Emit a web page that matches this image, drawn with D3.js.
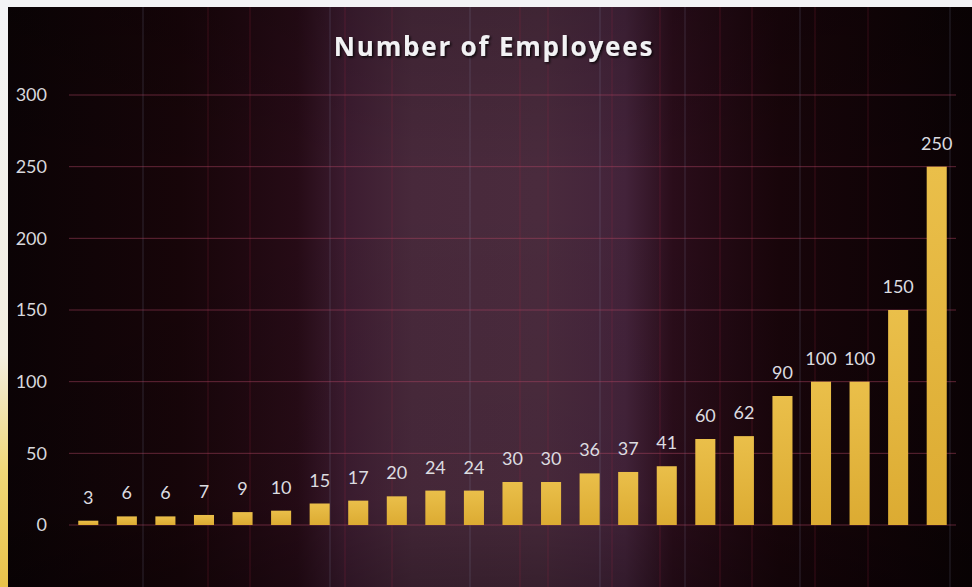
<!DOCTYPE html>
<html><head><meta charset="utf-8">
<script src="https://cdn.jsdelivr.net/npm/d3@7"></script>
<style>html,body{margin:0;padding:0;background:#f3f3f5;}svg{display:block;}</style>
</head><body>
<svg id="chart" width="972" height="587"></svg>
<script>
const categories = d3.range(1, 24).map(String);
const employees = [3,6,6,7,9,10,15,17,20,24,24,30,30,36,37,41,60,62,90,100,100,150,250];
const yTicks = [0,50,100,150,200,250,300];
const title = "Number of Employees";

const W = 972, H = 587;
const svg = d3.select("#chart");
const defs = svg.append("defs");

const bg = defs.append("linearGradient").attr("id","bg").attr("x1","0").attr("x2","1").attr("y1","0").attr("y2","0");
[[0,"#0b0305"],[0.18,"#170509"],[0.3,"#260b16"],[0.35,"#3c1c30"],[0.42,"#48293b"],[0.55,"#4a2b3d"],[0.64,"#43233a"],[0.69,"#2a0d1a"],[0.8,"#18050a"],[1,"#0a0204"]]
  .forEach(([o,c])=>bg.append("stop").attr("offset",o).attr("stop-color",c));
const vshade = defs.append("linearGradient").attr("id","vshade").attr("x1","0").attr("x2","0").attr("y1","0").attr("y2","1");
[[0,"rgba(0,0,0,0.15)"],[0.3,"rgba(0,0,0,0)"],[0.85,"rgba(0,0,0,0.05)"],[1,"rgba(0,0,0,0.25)"]]
  .forEach(([o,c])=>vshade.append("stop").attr("offset",o).attr("stop-color",c));
const strip = defs.append("linearGradient").attr("id","strip").attr("x1","0").attr("x2","0").attr("y1","0").attr("y2","1");
[[0,"#f4f4f6"],[0.6,"#f3eee0"],[0.8,"#f0d878"],[1,"#e8c24a"]]
  .forEach(([o,c])=>strip.append("stop").attr("offset",o).attr("stop-color",c));
const barG = defs.append("linearGradient").attr("id","barG").attr("x1","0").attr("x2","0").attr("y1","0").attr("y2","1");
[[0,"#eabf4a"],[1,"#dcab32"]].forEach(([o,c])=>barG.append("stop").attr("offset",o).attr("stop-color",c));
const shadow = defs.append("filter").attr("id","ts").attr("x","-10%").attr("y","-30%").attr("width","120%").attr("height","160%");
shadow.append("feDropShadow").attr("dx",1.5).attr("dy",1.5).attr("stdDeviation",1).attr("flood-color","#000").attr("flood-opacity",0.8);

svg.append("rect").attr("x",0).attr("y",0).attr("width",W).attr("height",H).attr("fill","#f3f3f5");
svg.append("rect").attr("x",0).attr("y",7).attr("width",9).attr("height",H-7).attr("fill","url(#strip)");
svg.append("rect").attr("x",8).attr("y",7).attr("width",W-8).attr("height",H-7).attr("fill","url(#bg)");
svg.append("rect").attr("x",8).attr("y",7).attr("width",W-8).attr("height",H-7).attr("fill","url(#vshade)");

const streaks = [143,208,250,330,345,392,470,520,548,600,612,660,685,720,752,800,815,868,950];
svg.append("g").selectAll("line").data(streaks).join("line")
  .attr("x1",d=>d).attr("x2",d=>d).attr("y1",7).attr("y2",H)
  .attr("stroke",(d,i)=>i%3===0?"rgba(150,160,190,0.22)":"rgba(160,40,70,0.28)")
  .attr("stroke-width",1);

const x = d3.scaleBand().domain(categories).range([69, 956]).paddingInner(0.48).paddingOuter(0.24);
const y = d3.scaleLinear().domain([0, 300]).range([525, 95]);

svg.append("g").selectAll("line").data(yTicks).join("line")
  .attr("x1",69).attr("x2",956)
  .attr("y1",d=>y(d)).attr("y2",d=>y(d))
  .attr("stroke","rgba(175,70,100,0.5)").attr("stroke-width",1);

const yAxis = d3.axisLeft(y).tickValues(yTicks).tickSize(0).tickPadding(0);
const ya = svg.append("g").attr("transform","translate(47,0)").call(yAxis);
ya.select(".domain").remove();
ya.selectAll("text").attr("fill","#d8d8dc").attr("font-family","Lato, 'Open Sans', sans-serif").attr("font-size",18);

svg.append("g").selectAll("rect").data(employees).join("rect")
  .attr("x",(d,i)=>x(categories[i]))
  .attr("width",x.bandwidth())
  .attr("y",d=>y(d))
  .attr("height",d=>y(0)-y(d))
  .attr("fill","url(#barG)");

svg.append("g").selectAll("text").data(employees).join("text")
  .attr("x",(d,i)=>x(categories[i])+x.bandwidth()/2)
  .attr("y",d=>y(d)-17)
  .attr("text-anchor","middle")
  .attr("fill","#dcdce0")
  .attr("font-family","Lato, 'Open Sans', sans-serif")
  .attr("font-size",18)
  .text(d=>d);

svg.append("text").attr("x",494).attr("y",56).attr("text-anchor","middle")
  .attr("fill","#f2f2f4").attr("font-family","'Open Sans', sans-serif").attr("font-weight","bold")
  .attr("font-size",26).attr("letter-spacing",1.8).attr("filter","url(#ts)")
  .text(title);
</script>
</body></html>
